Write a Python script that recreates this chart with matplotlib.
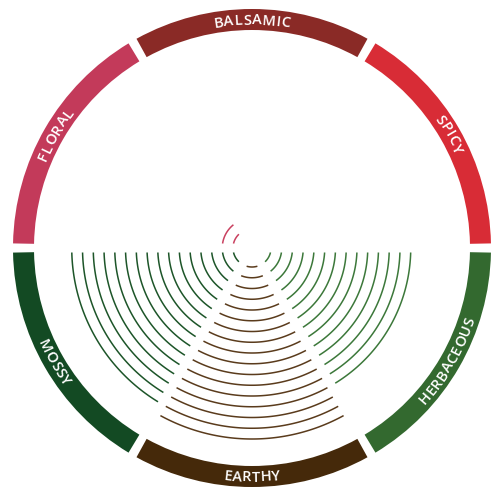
import numpy as np
import matplotlib.pyplot as plt

# flavour wheel: six families, inner arcs count = intensity
categories = ['BALSAMIC', 'SPICY', 'HERBACEOUS', 'EARTHY', 'MOSSY', 'FLORAL']
centers_deg = [90, 30, -30, -90, -150, 150]
arc_counts = [0, 0, 14, 17, 16, 2]
ring_colors = ['#8a2a26', '#d82c36', '#33692f', '#45290a', '#134a23', '#c33a5a']
arc_colors = ['#8a2a26', '#d82c36', '#3c783a', '#5a3b1c', '#1d5529', '#c9405f']

R_MAX = 240          # axis radius in pixels (dpi 100)
RING_IN, RING_W = 218, 21
ARC_R0, ARC_STEP = 19, 10.75
ARC_GAP = 4.5        # half gap between sectors, px
RING_GAP = np.radians(2.2)

fig = plt.figure(figsize=(4.92, 4.90), dpi=100)
ax = fig.add_axes([12 / 492, 2 / 490, 480 / 492, 480 / 490], projection='polar')
ax.set_ylim(0, R_MAX)
ax.set_axis_off()

sector = np.radians(60)

# outer ring
for c, col in zip(centers_deg, ring_colors):
    ax.bar(np.radians(c), RING_W, width=sector - RING_GAP, bottom=RING_IN,
           color=col, edgecolor='none')

# inner arcs
for c, n, col in zip(centers_deg, arc_counts, arc_colors):
    tc = np.radians(c)
    for k in range(n):
        r = ARC_R0 + k * ARC_STEP
        half = sector / 2 - ARC_GAP / r
        th = np.linspace(tc - half, tc + half, 120)
        ax.plot(th, np.full_like(th, r), color=col, lw=1.1, solid_capstyle='butt')

# curved labels
renderer = fig.canvas.get_renderer()
font = dict(fontsize=10.5, fontweight='semibold', family=['Open Sans', 'DejaVu Sans'],
            color='white')
r_mid = RING_IN + RING_W / 2
for name, c in zip(categories, centers_deg):
    widths = []
    for ch in name:
        t = ax.text(0, 0, ch, **font)
        widths.append(t.get_window_extent(renderer).width + 0.5)
        t.remove()
    total = sum(widths)
    top = c > 0
    r = r_mid - 5 if top else r_mid + 5
    cum = 0
    for ch, w in zip(name, widths):
        off = (cum + w / 2 - total / 2) / r
        cum += w
        if top:
            th = np.radians(c) - off
            rot = np.degrees(th) - 90
        else:
            th = np.radians(c) + off
            rot = np.degrees(th) + 90
        ax.text(th, r, ch, ha='center', va='baseline', rotation=rot,
                rotation_mode='anchor', **font)

fig.savefig('out.png', dpi=100)
